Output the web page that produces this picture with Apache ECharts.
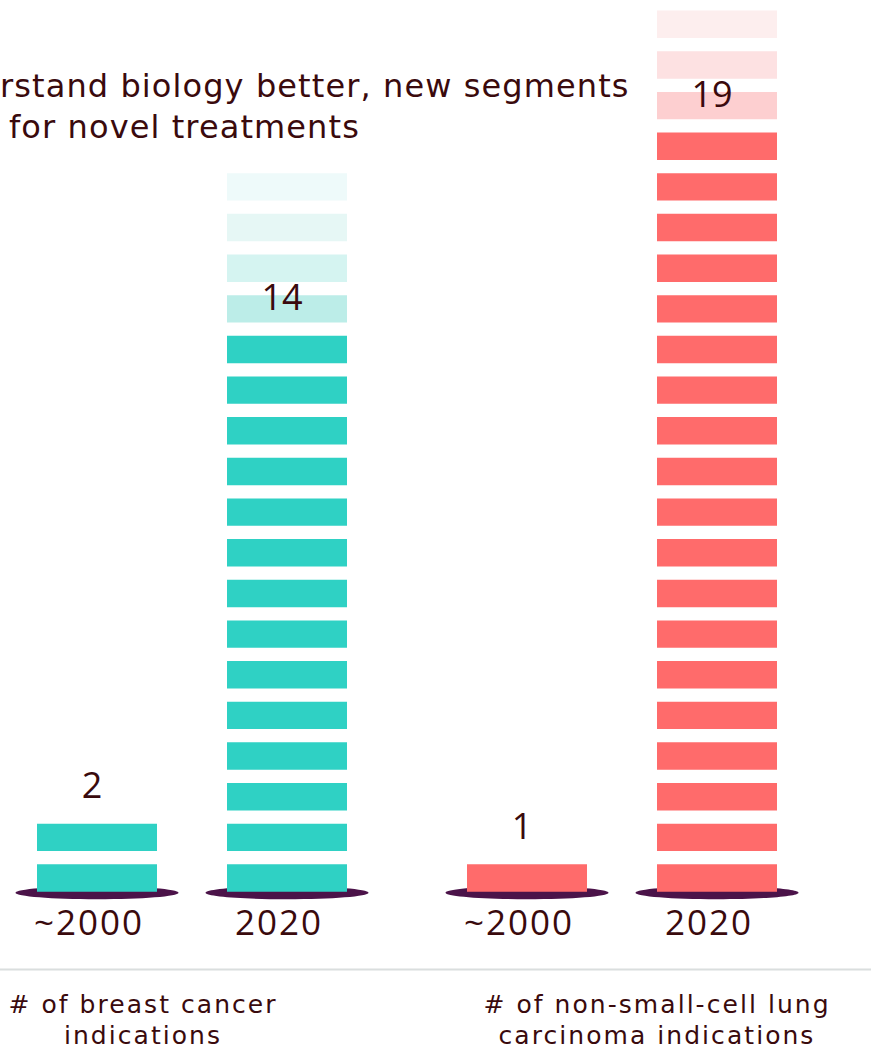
<!DOCTYPE html>
<html>
<head>
<meta charset="utf-8">
<script src="https://cdn.jsdelivr.net/npm/echarts@6/dist/echarts.min.js"></script>
<style>
  html, body { margin: 0; padding: 0; background: #ffffff; }
  #chart { width: 871px; height: 1053px; }
  /* tracking for the headline, group captions and period labels */
  #chart text[style*="32px"] { letter-spacing: 1.1px; }
  #chart text[style*="25px"] { letter-spacing: 2.05px; }
  #chart text[style*="35px"] { letter-spacing: 2px; }
</style>
</head>
<body>
<div id="chart"></div>
<script>
// Periods compared within each indication group
const periods = ['~2000', '2020'];
// Indication groups shown under the baseline
const groupLabels = ['# of breast cancer\nindications', '# of non-small-cell lung\ncarcinoma indications'];
// Number of indications per period
const breastCounts = [2, 14];
const lungCounts = [1, 19];
// Faded "still growing" blocks stacked on top of each 2020 column
const breastGrowth = [0, 4];
const lungGrowth = [0, 4];
// Headline (visible portion)
const titleLines = ['rstand biology better, new segments', 'for novel treatments'];

const TEXT = '#3a0a0d';
const BASE = '#4b1349';
const FONT = '"DejaVu Sans", sans-serif';
const NUM_FONT = '"Open Sans", sans-serif';
const SEG = 0.674;          // block height as a share of one unit step
const BAR_W = 120;

function stackRenderer(solid, fades) {
  return function (params, api) {
    const idx = api.value(0);
    const count = api.value(1);
    const extra = api.value(2);
    const base = api.coord([idx, 0]);
    const unit = api.size([0, 1])[1];
    const cx = base[0];
    const children = [{
      type: 'ellipse',
      shape: { cx: cx, cy: base[1] + 1, rx: 81.5, ry: 6.5 },
      style: { fill: BASE }
    }];
    for (let i = 0; i < count + extra; i++) {
      const top = api.coord([idx, i + SEG])[1];
      children.push({
        type: 'rect',
        shape: { x: cx - BAR_W / 2, y: top, width: BAR_W, height: SEG * unit },
        style: { fill: i < count ? solid : fades[Math.min(i - count, fades.length - 1)] }
      });
    }
    const lp = api.coord([idx, count + 0.64]);
    children.push({
      type: 'text',
      style: {
        text: String(count), x: lp[0] - 5, y: lp[1],
        align: 'center', verticalAlign: 'middle',
        fill: TEXT, font: '36px ' + NUM_FONT
      }
    });
    return { type: 'group', children: children };
  };
}

const chart = echarts.init(document.getElementById('chart'), null, { renderer: 'svg' });

const grids = [
  { left: 2, width: 380, top: 38, bottom: 161.3 },
  { left: 432, width: 380, top: 38, bottom: 161.3 }
];

const xAxes = grids.map((g, i) => ({
  type: 'category', gridIndex: i, data: periods,
  axisLine: { show: false }, axisTick: { show: false },
  axisLabel: {
    color: TEXT, fontFamily: NUM_FONT, fontSize: 35, margin: 12,
    padding: [0, 16, 0, 0]
  }
}));
const yAxes = grids.map((g, i) => ({
  type: 'value', gridIndex: i, min: 0, max: 21, show: false,
  splitLine: { show: false }
}));

function seriesData(counts, growth) {
  return counts.map((c, i) => [i, c, growth[i]]);
}

function caption(text, x) {
  return {
    type: 'text', x: x, y: 989,
    style: {
      text: text, fill: TEXT, font: '25px ' + FONT,
      align: 'center', verticalAlign: 'top', lineHeight: 31
    }
  };
}

chart.setOption({
  animation: false,
  grid: grids,
  xAxis: xAxes,
  yAxis: yAxes,
  graphic: [
    {
      type: 'text', x: 0, y: 85.5,
      style: { text: titleLines[0], fill: TEXT, font: '32px ' + FONT, verticalAlign: 'middle' }
    },
    {
      type: 'text', x: 9, y: 126.5,
      style: { text: titleLines[1], fill: TEXT, font: '32px ' + FONT, verticalAlign: 'middle' }
    },
    {
      type: 'line', shape: { x1: 0, y1: 969.5, x2: 871, y2: 969.5 },
      style: { stroke: '#dadede', lineWidth: 2 }
    },
    caption(groupLabels[0], 143),
    caption(groupLabels[1], 657)
  ],
  series: [
    {
      type: 'custom', xAxisIndex: 0, yAxisIndex: 0,
      renderItem: stackRenderer('#2fd1c4', ['#bcede8', '#d5f4f1', '#e6f7f5', '#eefafa']),
      encode: { x: 0, y: 1 },
      data: seriesData(breastCounts, breastGrowth)
    },
    {
      type: 'custom', xAxisIndex: 1, yAxisIndex: 1,
      renderItem: stackRenderer('#ff6b6b', ['#fdcfd0', '#fde1e2', '#fdeeee', '#fef6f6']),
      encode: { x: 0, y: 1 },
      data: seriesData(lungCounts, lungGrowth)
    }
  ]
});
</script>
</body>
</html>
